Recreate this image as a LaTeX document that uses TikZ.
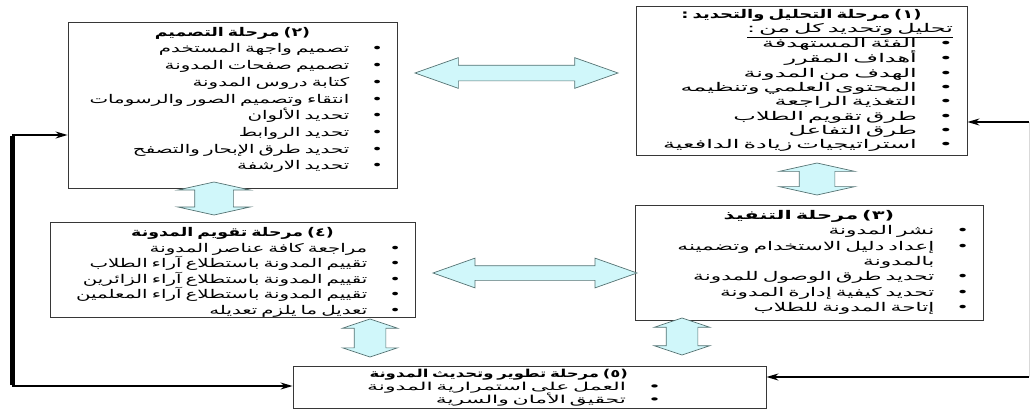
\documentclass[tikz,border=0pt]{standalone}
\usepackage{fontspec}
\usepackage{tikz}
\usetikzlibrary{shapes.arrows,arrows.meta,calc}
\TeXXeTstate=1
\newfontfamily\arabicfont[Script=Arabic,FakeStretch=1.65,BoldFeatures={FakeStretch=1.45}]{DejaVu Sans}
\newfontfamily\arabicmid[Script=Arabic,FakeStretch=1.8,BoldFeatures={FakeStretch=1.75}]{DejaVu Sans}
\newfontfamily\arabicwide[Script=Arabic,FakeStretch=2.0,BoldFeatures={FakeStretch=1.5}]{DejaVu Sans}

\definecolor{boxline}{RGB}{55,55,55}
\definecolor{arrowfill}{RGB}{208,247,250}
\definecolor{arrowline}{RGB}{85,115,115}

% one bullet line, bullet on the right
\newcommand{\itm}[1]{\beginR #1\endR\kern22pt\textbullet}
\newcommand{\ttl}[1]{\makebox[\linewidth]{\bfseries\beginR #1\endR}}
\newcommand{\lift}[1]{\par\kern#1\hrule height0pt width0pt}

\begin{document}
\begin{tikzpicture}[
            x=1pt, y=-1pt,
            stage/.style={draw=boxline, line width=0.9pt, align=right, inner xsep=14pt, inner ysep=2pt,
              font=\arabicfont\fontsize{12}{#1}\selectfont},
            stage/.default=15,
            dblarrow/.style={double arrow, draw=arrowline, fill=arrowfill, line width=0.7pt, inner xsep=0pt},
            link/.style={-{Stealth[length=12pt,width=7pt]}, line width=1.5pt}
          ]
          \useasboundingbox (0,0) rectangle (1032,412);

          % Stages
          \node[stage, minimum width=331pt, minimum height=149pt, text width=303pt,
                font=\arabicwide\fontsize{12}{14.3}\selectfont] (analysis) at (801.5,80.5) {%
            \ttl{(١) مرحلة التحليل والتحديد :}\\
            \underline{\beginR تحليل وتحديد كل من :\endR}\\
            \itm{الفئة المستهدفة}\\
            \itm{أهداف المقرر}\\
            \itm{الهدف من المدونة}\\
            \itm{المحتوى العلمي وتنظيمه}\\
            \itm{التغذية الراجعة}\\
            \itm{طرق تقويم الطلاب}\\
            \itm{طرق التفاعل}\\
            \itm{استراتيجيات زيادة الدافعية}};
          \node[stage=16.7, minimum width=329pt, minimum height=166pt, text width=301pt] (design) at (232.5,105) {%
            \ttl{(٢) مرحلة التصميم}\\
            \itm{تصميم واجهة المستخدم}\\
            \itm{تصميم صفحات المدونة}\\
            \itm{كتابة دروس المدونة}\\
            \itm{انتقاء وتصميم الصور والرسومات}\\
            \itm{تحديد الألوان}\\
            \itm{تحديد الروابط}\\
            \itm{تحديد طرق الإبحار والتصفح}\\
            \itm{تحديد الارشفة}\lift{10pt}};
          \node[stage, minimum width=348pt, minimum height=115pt, text width=320pt,
                font=\arabicmid\fontsize{12}{15.3}\selectfont] (build) at (809,262.5) {%
            \ttl{(٣) مرحلة التنفيذ}\\
            \itm{نشر المدونة}\\
            \itm{إعداد دليل الاستخدام وتضمينه}\\
            \beginR بالمدونة\endR\kern22pt\phantom{\textbullet}\\
            \itm{تحديد طرق الوصول للمدونة}\\
            \itm{تحديد كيفية إدارة المدونة}\\
            \itm{إتاحة المدونة للطلاب}};
          \node[stage=15.5, minimum width=365pt, minimum height=95pt, text width=337pt] (review) at (232.5,269.5) {%
            \ttl{(٤) مرحلة تقويم المدونة}\\
            \itm{مراجعة كافة عناصر المدونة}\\
            \itm{تقييم المدونة باستطلاع آراء الطلاب}\\
            \itm{تقييم المدونة باستطلاع آراء الزائرين}\\
            \itm{تقييم المدونة باستطلاع آراء المعلمين}\\
            \itm{تعديل ما يلزم تعديله}\lift{-6pt}};
          \node[stage, minimum width=473pt, minimum height=41pt, text width=445pt,
                font=\arabicwide\fontsize{11}{13.3}\selectfont] (develop) at (529.5,387.5) {%
            {\bfseries\beginR (٥) مرحلة تطوير وتحديث المدونة\endR}\kern124pt\\
            \itm{العمل على استمرارية المدونة}\kern91pt\\
            \itm{تحقيق الأمان والسرية}\kern91pt};

          % Block arrows
          \node[dblarrow, minimum height=203pt, inner ysep=7.5pt, double arrow head extend=7.5pt,
                double arrow tip angle=39] (a12) at (516.5,73) {};
          \node[dblarrow, minimum height=204pt, inner ysep=7pt, double arrow head extend=7.5pt,
                double arrow tip angle=39] (a34) at (535,273) {};
          \node[dblarrow, rotate=90, minimum height=33pt, inner ysep=19pt, double arrow head extend=17pt,
                double arrow tip angle=155] (a24) at (214,198.5) {};
          \node[dblarrow, rotate=90, minimum height=32pt, inner ysep=17.5pt, double arrow head extend=20pt,
                double arrow tip angle=155] (a13) at (817,179) {};
          \node[dblarrow, rotate=90, minimum height=38pt, inner ysep=15.5pt, double arrow head extend=11.5pt,
                double arrow tip angle=143] (a45) at (370,338) {};
          \node[dblarrow, rotate=90, minimum height=37pt, inner ysep=15.5pt, double arrow head extend=12pt,
                double arrow tip angle=143] (a35) at (682,336.5) {};

          % Feedback lines
          \coordinate (lt) at (12,135);
          \coordinate (lb) at (12,386);
          \coordinate (rt) at (1029,122);
          \coordinate (rb) at (1029,377);
          \draw[link] (lt) -- (design.west |- lt);
          \draw[link] (lb) -- (develop.west |- lb);
          \draw[line width=5pt] ([yshift=-1pt]lt) -- ([yshift=0.75pt]lb);
          \draw[link] (rt) -- (analysis.east |- rt);
          \draw[link] (rb) -- (develop.east |- rb);
          \draw[black!15, line width=1pt] (rt) -- (rb);

        \end{tikzpicture}
\end{document}
